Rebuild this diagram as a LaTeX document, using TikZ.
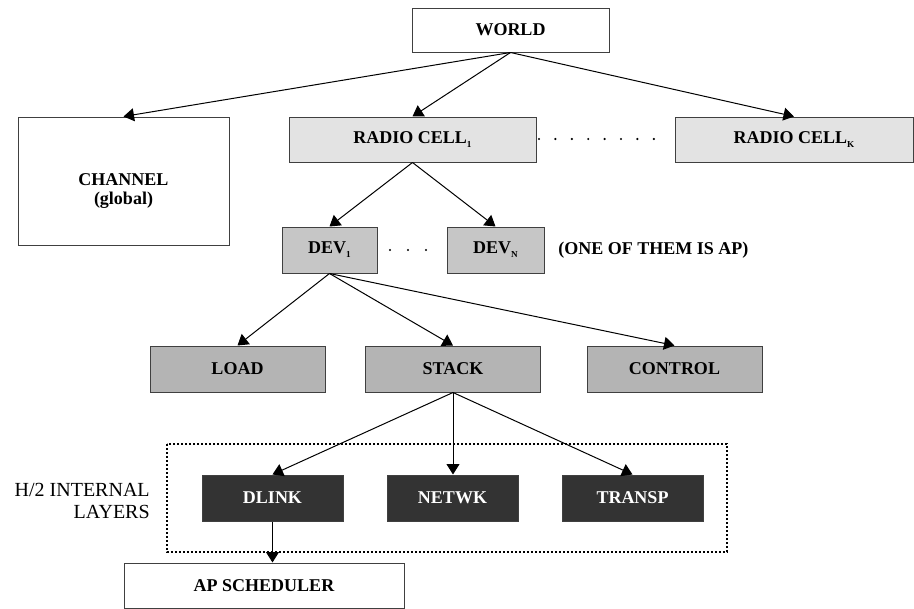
\documentclass[tikz,border=0pt]{standalone}
\usepackage{fontspec}
\setmainfont{Liberation Serif}
\usetikzlibrary{arrows.meta}
\newcommand\lowidx[1]{\raisebox{-0.5ex}{\fontsize{5.5}{5.5}\selectfont #1}}
\definecolor{cellgray}{HTML}{E3E3E3}
\definecolor{devgray}{HTML}{C6C6C6}
\definecolor{partgray}{HTML}{B4B4B4}
\definecolor{layergray}{HTML}{333333}
\begin{document}
\begin{tikzpicture}[>={Triangle[length=6.3pt,width=7.8pt]},x=0.6pt,y=-0.6pt,
  boxfont/.style={font=\bfseries\fontsize{10.8}{11}\selectfont},
  box/.style 2 args={draw=black!75,line width=0.6pt,inner sep=0pt,
    minimum width=#1*0.6pt,minimum height=#2*0.6pt,boxfont},
  link/.style={->,line width=0.6pt}]
  \useasboundingbox (0,0) rectangle (914,609);
  %
  % Top level
  \node[box={197}{44}] (world) at (510.5,30) {WORLD};
  \node[box={211}{128},
    label={[boxfont,align=center,yshift=-6pt]center:CHANNEL\\(global)}]
    (channel) at (123.5,181) {};
  \node[box={247}{45},fill=cellgray] (cell1) at (412.5,139.5) {RADIO CELL\lowidx{1}};
  \node[box={238}{45},fill=cellgray] (cellk) at (794,139.5) {RADIO CELL\lowidx{K}};
  \foreach \x in {0,...,7}
    \fill (539+16.4*\x,139) circle [radius=1.2];
  %
  % Devices
  \node[box={95}{46},fill=devgray] (dev1) at (329.5,250) {DEV\lowidx{1}};
  \node[box={97}{46},fill=devgray] (devn) at (495.5,250) {DEV\lowidx{N}};
  \foreach \x in {390,408,426}
    \fill (\x,250) circle [radius=1.2];
  \node[anchor=west,inner sep=0pt,boxfont] (apnote) at (558,250) {(ONE OF THEM IS AP)};
  %
  % Device parts
  \node[box={175}{46},fill=partgray] (load) at (237.5,369) {LOAD};
  \node[box={175}{46},fill=partgray] (stack) at (453,369) {STACK};
  \node[box={175}{46},fill=partgray] (control) at (674.5,369) {CONTROL};
  %
  % Internal layers
  \draw[line width=1.2pt,dash pattern=on 1.2pt off 1.2pt] (167,444) rectangle (727,552);
  \node[box={141}{46},fill=layergray,text=white] (dlink) at (272.5,498) {DLINK};
  \node[box={131}{46},fill=layergray,text=white] (netwk) at (452.5,498) {NETWK};
  \node[box={141}{46},fill=layergray,text=white] (transp) at (632.5,498) {TRANSP};
  \node[anchor=east,align=right,inner sep=0pt,font=\fontsize{12}{13.5}\selectfont]
    (layerlabel) at (150,501) {H/2 INTERNAL\\LAYERS};
  \node[box={280}{45}] (apsched) at (264,585.5) {AP SCHEDULER};
  %
  % Connectors
  \draw[link] (world.south) -- (channel.north);
  \draw[link] (world.south) -- (cell1.north);
  \draw[link] (world.south) -- (cellk.north);
  \draw[link] (cell1.south) -- (dev1.north);
  \draw[link] (cell1.south) -- (devn.north);
  \draw[link] (dev1.south) -- (load.north);
  \draw[link] (dev1.south) -- (stack.north);
  \draw[link] (dev1.south) -- (control.north);
  \draw[link] (stack.south) -- (dlink.north);
  \draw[link] (stack.south) -- (stack.south |- netwk.north);
  \draw[link] (stack.south) -- (transp.north);
  \draw[link] (dlink.south) -- (dlink.south |- apsched.north);
  %
\end{tikzpicture}
\end{document}
